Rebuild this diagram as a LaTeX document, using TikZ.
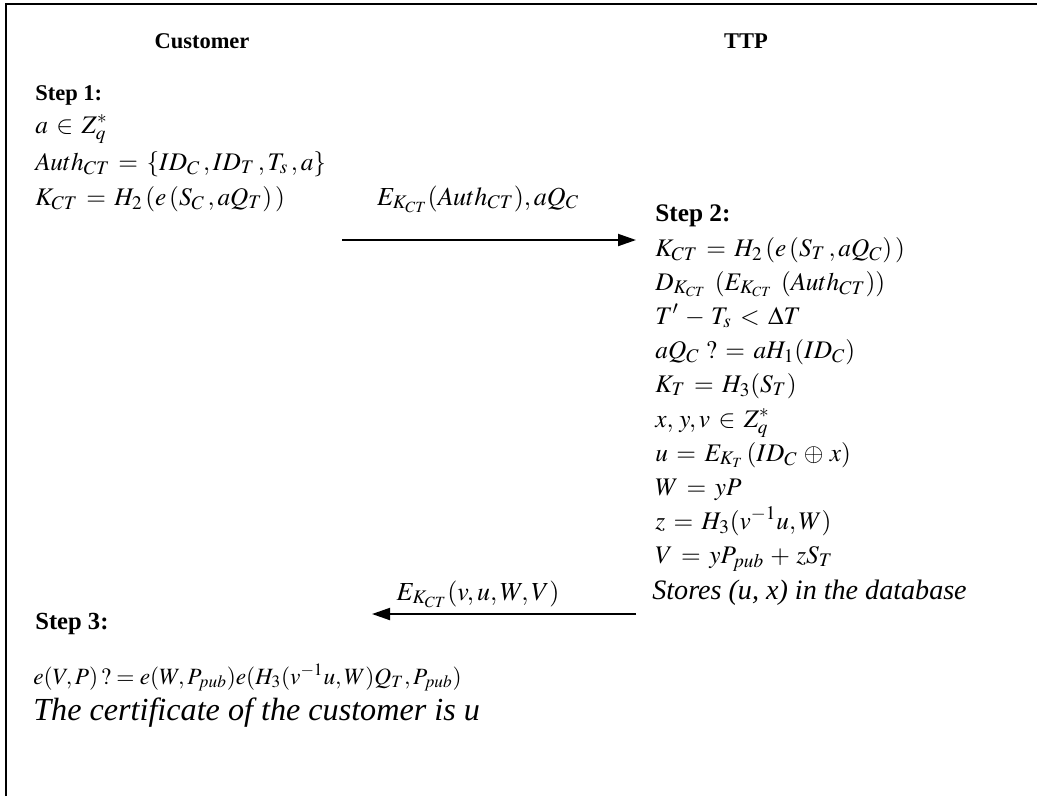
\documentclass[tikz,border=0pt]{standalone}
\usepackage{mathptmx}
\usepackage{fontspec}
\setmainfont{Liberation Serif}
\usepackage{tikz}
\usetikzlibrary{arrows.meta,positioning}
\thickmuskip=6mu plus 2mu
\medmuskip=4.5mu plus 2mu

\begin{document}
\begin{tikzpicture}[x=0.02cm, y=-0.02cm,
  party/.style={anchor=base, font=\fontsize{12.8}{15}\selectfont\bfseries},
  steplbl/.style={anchor=base west, inner sep=0pt, font=\fontsize{#1}{16}\selectfont\bfseries},
  steplbl/.default=12.8,
  eqn/.style={anchor=base west, inner sep=0pt, font=\fontsize{14.4}{17}\selectfont},
  note/.style={anchor=base west, inner sep=0pt, font=\fontsize{#1}{18}\selectfont\itshape},
  msg/.style={anchor=base, inner sep=0pt, font=\fontsize{14.8}{18}\selectfont},
  flow/.style={-{Triangle[length=0.36cm, width=0.24cm]}, line width=1.1pt}
]
  \useasboundingbox (0,0) rectangle (1037,796);
  % frame (top and left only)
  \draw[line width=1.4pt] (6,796) -- (6,4) -- (1037,4);

  \node[party] (cust) at (202,48) {Customer};
  \node[party] (ttp)  at (746,48) {TTP};

  % customer, step 1
  \node[steplbl] (s1) at (35,100) {Step 1:};
  \node[eqn] (s1a) at (35,133) {$a \in Z_q^{*}$};
  \node[eqn] (s1b) at (35,170) {$Auth_{CT} = \{ID_C\,, ID_T\,, T_s\,, a\}$};
  \node[eqn] (s1c) at (35,205) {$K_{CT} = H_2\,(e\,(S_C\,, aQ_T)\,)$};

  % first message
  \coordinate (m1a) at (342,240);
  \coordinate (m1b) at (636,240);
  \node[msg] (m1) at (478,205) {$E_{K_{CT}}(Auth_{CT}), aQ_C$};
  \draw[flow] (m1a) -- (m1b);

  % TTP, step 2
  \node[steplbl=14.4] (s2) at (655,221) {Step 2:};
  \node[eqn] (s2a) at (655,256) {$K_{CT} = H_2\,(e\,(S_T\,, aQ_C)\,)$};
  \node[eqn] (s2b) at (655,290) {$D_{K_{CT}}\;(E_{K_{CT}}\;(Auth_{CT}))$};
  \node[eqn] (s2c) at (655,324) {$T' - T_s < \Delta T$};
  \node[eqn] (s2d) at (655,358) {$aQ_C\ ? = aH_1(ID_C)$};
  \node[eqn] (s2e) at (655,392) {$K_T = H_3(S_T)$};
  \node[eqn] (s2f) at (655,427) {$x,\, y, v \in Z_q^{*}$};
  \node[eqn] (s2g) at (655,461) {$u = E_{K_T}\,(ID_C \oplus x)$};
  \node[eqn] (s2h) at (655,495) {$W = yP$};
  \node[eqn] (s2i) at (655,529) {$z = H_3(v^{-1}u, W)$};
  \node[eqn] (s2j) at (655,563) {$V = yP_{pub} + zS_T$};
  \node[note=16] (s2k) at (652,599) {Stores (u, x) in the database};

  % second message
  \coordinate (m2a) at (636,614);
  \coordinate (m2b) at (372,614);
  \node[msg] (m2) at (478,600) {$E_{K_{CT}}(v, u, W, V)$};
  \draw[flow] (m2a) -- (m2b);

  % customer, step 3
  \node[steplbl=14] (s3) at (35,629) {Step 3:};
  \node[eqn, font=\fontsize{13.3}{15}\selectfont] (s3a) at (33,684) {\thickmuskip=4mu\medmuskip=3mu$e(V,P)\,?=e(W,P_{pub})e(H_3(v^{-1}u,W)Q_T,P_{pub})$};
  \node[note=18.3] (s3b) at (33,720) {The certificate of the customer is u};
\end{tikzpicture}
\end{document}
